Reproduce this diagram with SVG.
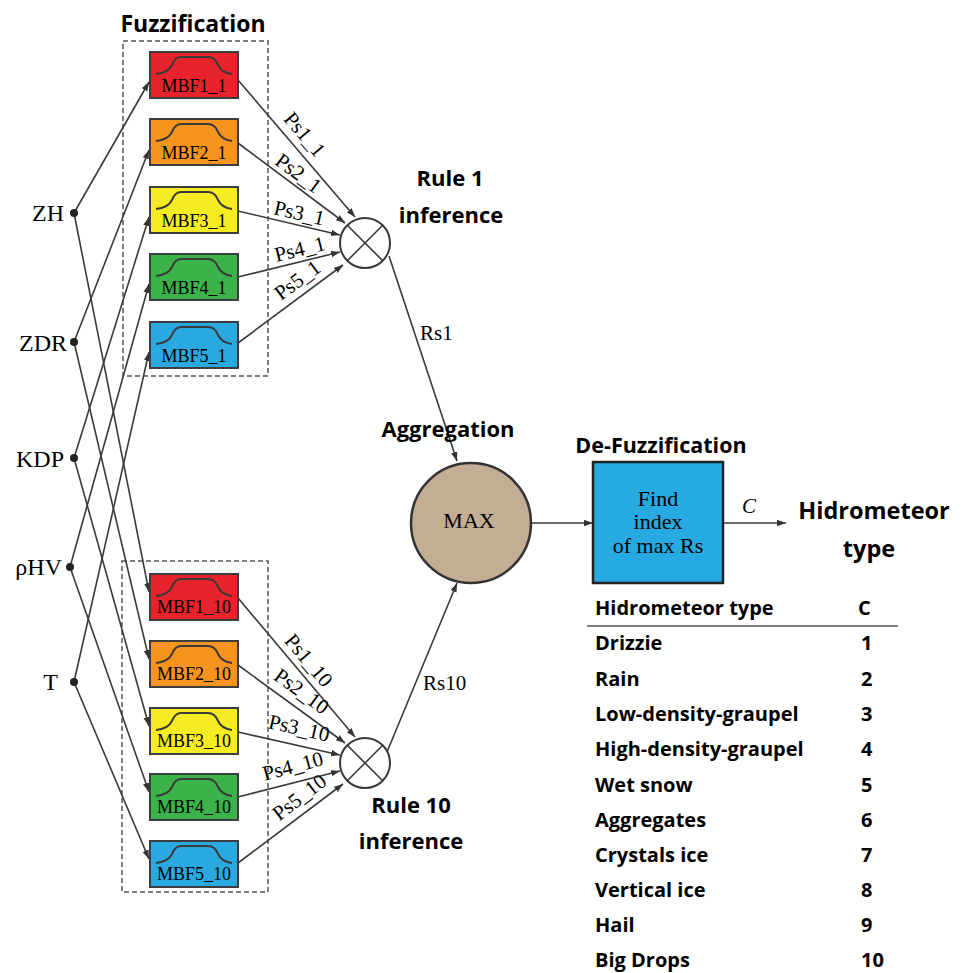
<svg xmlns="http://www.w3.org/2000/svg" width="964" height="973" viewBox="0 0 964 973">
<defs>
<style>
.bg{fill:#ffffff}
.hd{font-family:"Open Sans","Liberation Sans",sans-serif;font-weight:700;fill:#000}
.sf{font-family:"Liberation Serif","Times New Roman",serif;fill:#000}
.ln{stroke:#3a3a3a;stroke-width:1.6;fill:none}
.dash{stroke:#555;stroke-width:1.5;fill:none;stroke-dasharray:5 3}
.mbf rect{stroke:#3d3d3d;stroke-width:2}
.mbf text{font-family:"Liberation Serif","Times New Roman",serif;font-size:18px;fill:#000;text-anchor:middle}
.ps{font-family:"Liberation Serif","Times New Roman",serif;font-size:21px;fill:#000;text-anchor:middle}
.inp{font-family:"Liberation Serif","Times New Roman",serif;font-size:24px;fill:#000;text-anchor:end}
.tb{font-family:"Open Sans","Liberation Sans",sans-serif;font-weight:700;font-size:20px;fill:#000}
.red{fill:#e8232b}.org{fill:#f7941e}.yel{fill:#f6ec22}.grn{fill:#3bb34a}.blu{fill:#29a9e0}
</style>
<marker id="ah" markerWidth="10" markerHeight="8" refX="9" refY="3.5" orient="auto" markerUnits="userSpaceOnUse">
<path d="M0,0.3 L9,3.5 L0,6.7 z" fill="#333"/>
</marker>
<path id="mf" d="M6 22 Q18 21 22 13 Q25 5 31 5 L58 5 Q65 5 68 13 Q72 21 82 22" fill="none" stroke="#3a3a3a" stroke-width="2"/>
</defs>
<rect class="bg" x="0" y="0" width="964" height="973"/>

<!-- dashed group frames -->
<g id="fuzz-frames">
<rect class="dash" x="123" y="41" width="145" height="335"/>
<rect class="dash" x="122" y="561" width="146" height="331"/>
<text class="hd" x="193" y="32" font-size="23" text-anchor="middle">Fuzzification</text>
</g>

<!-- connectors -->
<g id="connectors">
<line class="ln" x1="74" y1="213" x2="149" y2="82" marker-end="url(#ah)"/>
<line class="ln" x1="74" y1="342" x2="149" y2="150" marker-end="url(#ah)"/>
<line class="ln" x1="74" y1="458" x2="149" y2="217" marker-end="url(#ah)"/>
<line class="ln" x1="70" y1="567" x2="149" y2="284" marker-end="url(#ah)"/>
<line class="ln" x1="74" y1="682" x2="149" y2="352" marker-end="url(#ah)"/>
<line class="ln" x1="74" y1="213" x2="149" y2="592" marker-end="url(#ah)"/>
<line class="ln" x1="74" y1="342" x2="149" y2="659" marker-end="url(#ah)"/>
<line class="ln" x1="74" y1="458" x2="149" y2="726" marker-end="url(#ah)"/>
<line class="ln" x1="70" y1="567" x2="149" y2="792" marker-end="url(#ah)"/>
<line class="ln" x1="74" y1="682" x2="149" y2="859" marker-end="url(#ah)"/>
<line class="ln" x1="238" y1="80" x2="355" y2="217" marker-end="url(#ah)"/>
<line class="ln" x1="238" y1="143" x2="345" y2="223" marker-end="url(#ah)"/>
<line class="ln" x1="238" y1="211" x2="340" y2="235" marker-end="url(#ah)"/>
<line class="ln" x1="238" y1="277" x2="340" y2="252" marker-end="url(#ah)"/>
<line class="ln" x1="238" y1="343" x2="343" y2="265" marker-end="url(#ah)"/>
<line class="ln" x1="238" y1="598" x2="355" y2="737" marker-end="url(#ah)"/>
<line class="ln" x1="238" y1="665" x2="345" y2="743" marker-end="url(#ah)"/>
<line class="ln" x1="238" y1="732" x2="340" y2="755" marker-end="url(#ah)"/>
<line class="ln" x1="238" y1="797" x2="340" y2="771" marker-end="url(#ah)"/>
<line class="ln" x1="238" y1="863" x2="343" y2="784" marker-end="url(#ah)"/>
<line class="ln" x1="389" y1="256" x2="457" y2="461" marker-end="url(#ah)"/>
<line class="ln" x1="387" y1="752" x2="457" y2="583" marker-end="url(#ah)"/>
<line class="ln" x1="531" y1="523" x2="593" y2="523" marker-end="url(#ah)"/>
<line class="ln" x1="724" y1="523" x2="786" y2="523" marker-end="url(#ah)"/>
<text class="ps" transform="translate(304,135) rotate(49.5)" y="6">Ps1_1</text>
<text class="ps" transform="translate(298,174) rotate(36.8)" y="6">Ps2_1</text>
<text class="ps" transform="translate(299,214) rotate(13.2)" y="6">Ps3_1</text>
<text class="ps" transform="translate(300,250) rotate(-13.8)" y="6">Ps4_1</text>
<text class="ps" transform="translate(298,281) rotate(-36.6)" y="6">Ps5_1</text>
<text class="ps" transform="translate(308,661) rotate(49.9)" y="6">Ps1_10</text>
<text class="ps" transform="translate(301,692) rotate(36.1)" y="6">Ps2_10</text>
<text class="ps" transform="translate(299,729) rotate(13)" y="6">Ps3_10</text>
<text class="ps" transform="translate(293,767) rotate(-14.8)" y="6">Ps4_10</text>
<text class="ps" transform="translate(300,798) rotate(-37.6)" y="6">Ps5_10</text>
<text class="sf" x="420" y="340" font-size="21">Rs1</text>
<text class="sf" x="423" y="690" font-size="21">Rs10</text>
<text class="sf" x="742" y="513" font-size="21" font-style="italic">C</text>
</g>

<!-- inputs -->
<g id="in-ZH"><circle cx="74" cy="213" r="4" fill="#222"/><text class="inp" x="64" y="221">ZH</text></g>
<g id="in-ZDR"><circle cx="74" cy="342" r="4" fill="#222"/><text class="inp" x="67" y="351">ZDR</text></g>
<g id="in-KDP"><circle cx="74" cy="458" r="4" fill="#222"/><text class="inp" x="64" y="467">KDP</text></g>
<g id="in-rhoHV"><circle cx="70" cy="567" r="4" fill="#222"/><text class="inp" x="62" y="575">ρHV</text></g>
<g id="in-T"><circle cx="74" cy="682" r="4" fill="#222"/><text class="inp" x="58" y="690">T</text></g>

<!-- top fuzzification MBFs -->
<g id="MBF1_1" class="mbf" transform="translate(150,52)"><rect class="red" width="88" height="46"/><use href="#mf"/><text x="44" y="40">MBF1_1</text></g>
<g id="MBF2_1" class="mbf" transform="translate(150,119)"><rect class="org" width="88" height="46"/><use href="#mf"/><text x="44" y="40">MBF2_1</text></g>
<g id="MBF3_1" class="mbf" transform="translate(150,187)"><rect class="yel" width="88" height="46"/><use href="#mf"/><text x="44" y="40">MBF3_1</text></g>
<g id="MBF4_1" class="mbf" transform="translate(150,254)"><rect class="grn" width="88" height="46"/><use href="#mf"/><text x="44" y="40">MBF4_1</text></g>
<g id="MBF5_1" class="mbf" transform="translate(150,322)"><rect class="blu" width="88" height="46"/><use href="#mf"/><text x="44" y="40">MBF5_1</text></g>

<!-- bottom fuzzification MBFs -->
<g id="MBF1_10" class="mbf" transform="translate(150,574)"><rect class="red" width="88" height="46"/><use href="#mf"/><text x="44" y="39">MBF1_10</text></g>
<g id="MBF2_10" class="mbf" transform="translate(150,641)"><rect class="org" width="88" height="46"/><use href="#mf"/><text x="44" y="39">MBF2_10</text></g>
<g id="MBF3_10" class="mbf" transform="translate(150,708)"><rect class="yel" width="88" height="46"/><use href="#mf"/><text x="44" y="39">MBF3_10</text></g>
<g id="MBF4_10" class="mbf" transform="translate(150,774)"><rect class="grn" width="88" height="46"/><use href="#mf"/><text x="44" y="39">MBF4_10</text></g>
<g id="MBF5_10" class="mbf" transform="translate(150,841)"><rect class="blu" width="88" height="46"/><use href="#mf"/><text x="44" y="39">MBF5_10</text></g>

<!-- rule 1 -->
<g id="rule1">
<circle cx="365" cy="243" r="25" fill="#fff" stroke="#3a3a3a" stroke-width="2"/>
<line class="ln" x1="347.3" y1="225.3" x2="382.7" y2="260.7" stroke-width="2"/>
<line class="ln" x1="382.7" y1="225.3" x2="347.3" y2="260.7" stroke-width="2"/>
<text class="hd" x="450" y="186" font-size="22" text-anchor="middle">Rule 1</text>
<text class="hd" x="451" y="223" font-size="22" text-anchor="middle">inference</text>
</g>

<!-- rule 10 -->
<g id="rule10">
<circle cx="365" cy="763" r="25" fill="#fff" stroke="#3a3a3a" stroke-width="2"/>
<line class="ln" x1="347.3" y1="745.3" x2="382.7" y2="780.7" stroke-width="2"/>
<line class="ln" x1="382.7" y1="745.3" x2="347.3" y2="780.7" stroke-width="2"/>
<text class="hd" x="411" y="813" font-size="22" text-anchor="middle">Rule 10</text>
<text class="hd" x="411" y="849" font-size="22" text-anchor="middle">inference</text>
</g>

<!-- aggregation -->
<g id="aggregation">
<text class="hd" x="448" y="437" font-size="22" text-anchor="middle">Aggregation</text>
<circle cx="471" cy="523" r="60" fill="#c3ad95" stroke="#333" stroke-width="2.5"/>
<text class="sf" x="469" y="528" font-size="22" text-anchor="middle">MAX</text>
</g>

<!-- defuzzification -->
<g id="defuzzification">
<text class="hd" x="661" y="453" font-size="21.5" text-anchor="middle">De-Fuzzification</text>
<rect x="593" y="462" width="130" height="121" fill="#27a9e1" stroke="#222" stroke-width="2.5"/>
<text class="sf" x="658" y="506" font-size="22" text-anchor="middle">Find</text>
<text class="sf" x="658" y="529" font-size="22" text-anchor="middle">index</text>
<text class="sf" x="658" y="553" font-size="22" text-anchor="middle">of max Rs</text>
</g>

<!-- output -->
<g id="output">
<text class="hd" x="874" y="519" font-size="23.5" text-anchor="middle">Hidrometeor</text>
<text class="hd" x="869" y="557" font-size="23.5" text-anchor="middle">type</text>
</g>

<!-- table -->
<g id="table">
<text class="tb" x="595" y="615">Hidrometeor type</text>
<text class="tb" x="858" y="615">C</text>
<line x1="587" y1="626" x2="898" y2="626" stroke="#555" stroke-width="1.5"/>
<text class="tb" x="595" y="650">Drizzie</text><text class="tb" x="861" y="650">1</text>
<text class="tb" x="595" y="686">Rain</text><text class="tb" x="861" y="686">2</text>
<text class="tb" x="595" y="721">Low-density-graupel</text><text class="tb" x="861" y="721">3</text>
<text class="tb" x="595" y="756">High-density-graupel</text><text class="tb" x="861" y="756">4</text>
<text class="tb" x="595" y="792">Wet snow</text><text class="tb" x="861" y="792">5</text>
<text class="tb" x="595" y="827">Aggregates</text><text class="tb" x="861" y="827">6</text>
<text class="tb" x="595" y="862">Crystals ice</text><text class="tb" x="861" y="862">7</text>
<text class="tb" x="595" y="897">Vertical ice</text><text class="tb" x="861" y="897">8</text>
<text class="tb" x="595" y="932">Hail</text><text class="tb" x="861" y="932">9</text>
<text class="tb" x="595" y="967">Big Drops</text><text class="tb" x="861" y="967">10</text>
</g>
</svg>
